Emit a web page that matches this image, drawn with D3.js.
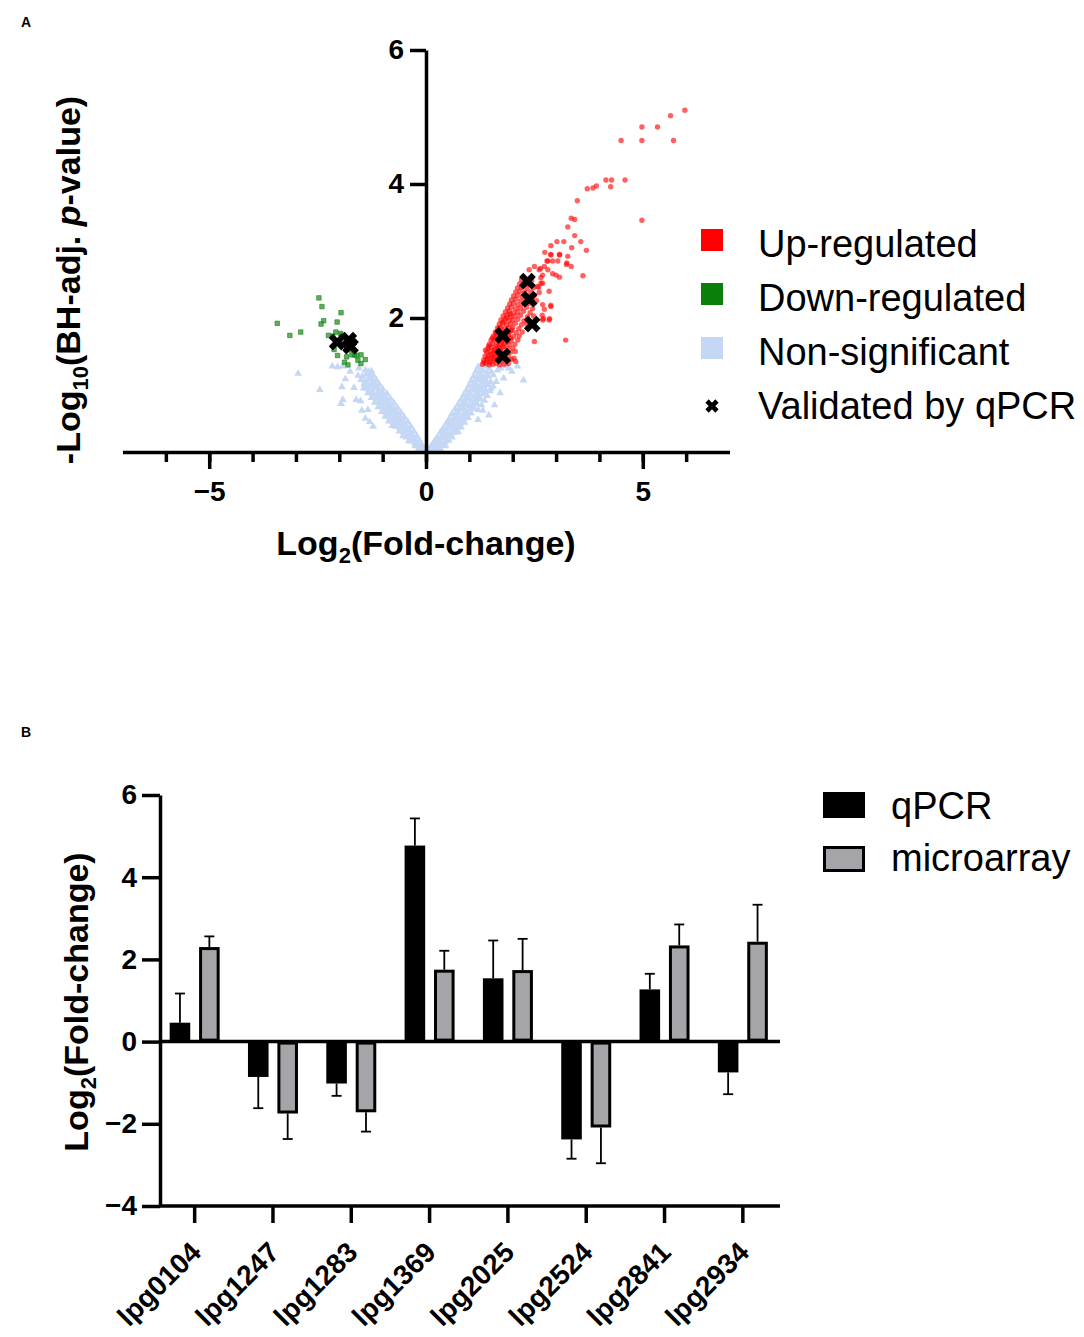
<!DOCTYPE html>
<html>
<head>
<meta charset="utf-8">
<script src="https://cdn.jsdelivr.net/npm/d3@7"></script>
<style>
  body { margin: 0; background: #fff; }
  svg { font-family: Arial, 'Liberation Sans', sans-serif; }
  .axis path, .axis line { stroke: #000; stroke-width: 3.5; }
  .axis text { font-size: 28px; font-weight: bold; fill: #000; }
  .title { font-size: 34px; font-weight: bold; }
  .legend { font-size: 38px; }
  .panel { font-size: 14px; font-weight: bold; }
</style>
</head>
<body>
<div id="chart"></div>
<script>
// ---- Panel A: volcano plot [log2 FC, -log10 adj p] ----
const nsLeft = [
  [-0.04,0.04],[-0.1,0.03],[-0.17,0.05],[-0.09,0.1],[-0.17,0.11],[-0.25,0.09],
  [-0.15,0.17],[-0.23,0.16],[-0.31,0.18],[-0.4,0.16],
  [-0.21,0.24],[-0.29,0.23],[-0.37,0.25],[-0.45,0.22],[-0.53,0.24],
  [-0.28,0.31],[-0.36,0.3],[-0.44,0.32],[-0.52,0.29],[-0.62,0.31],
  [-0.35,0.38],[-0.43,0.37],[-0.51,0.39],[-0.6,0.36],[-0.69,0.38],[-0.78,0.39],
  [-0.42,0.45],[-0.5,0.44],[-0.58,0.46],[-0.67,0.43],[-0.76,0.45],[-0.86,0.46],
  [-0.5,0.52],[-0.58,0.51],[-0.66,0.53],[-0.75,0.5],[-0.84,0.52],[-0.94,0.53],
  [-0.58,0.59],[-0.66,0.58],[-0.74,0.6],[-0.83,0.57],[-0.92,0.59],[-1.02,0.6],
  [-0.66,0.66],[-0.74,0.65],[-0.82,0.67],[-0.9,0.64],[-0.99,0.66],[-1.1,0.67],
  [-0.74,0.73],[-0.82,0.72],[-0.9,0.74],[-0.98,0.71],[-1.07,0.73],[-1.18,0.74],
  [-0.82,0.8],[-0.9,0.79],[-0.98,0.81],[-1.06,0.78],[-1.15,0.8],[-1.26,0.81],
  [-0.9,0.87],[-0.98,0.86],[-1.06,0.88],[-1.14,0.85],[-1.23,0.87],[-1.34,0.88],
  [-1.0,0.94],[-1.08,0.93],[-1.16,0.95],[-1.25,0.92],[-1.35,0.94],[-1.44,0.95],
  [-1.08,1.01],[-1.16,1.0],[-1.24,1.02],[-1.33,0.99],[-1.43,1.01],
  [-1.15,1.08],[-1.23,1.07],[-1.31,1.09],[-1.4,1.06],[-1.5,1.08],
  [-1.22,1.15],[-1.3,1.14],[-1.38,1.16],[-1.47,1.13],
  [-1.26,1.21],[-1.33,1.2],[-1.4,1.22],
  [-0.13,0.07],[-0.33,0.21],[-0.48,0.34],[-0.63,0.48],[-0.79,0.62],[-0.95,0.76],
  [-1.1,0.9],[-1.2,1.04],[-0.26,0.13],[-0.4,0.27],[-0.55,0.41],[-0.71,0.55],
  [-0.87,0.69],[-1.03,0.83],[-1.19,0.97],[-1.28,1.11],[-1.36,1.02],[-1.3,0.9],
  [-2.95,1.17],[-2.45,0.93],[-2.16,1.28],[-2.04,1.27],[-1.92,1.28],[-1.86,1.09],
  [-1.94,0.97],[-1.92,0.78],[-1.96,0.72],[-1.61,0.78],[-1.51,0.76],[-1.57,1.14],
  [-1.34,0.63],[-1.22,0.38],[-1.4,0.5],[-1.3,0.45],[-1.75,1.2],[-1.66,0.96],
  [-1.55,1.25],[-1.48,0.62]
];
const nsRight = [
  [0.04,0.03],[0.1,0.04],[0.17,0.05],[0.25,0.06],[0.33,0.05],
  [0.12,0.09],[0.2,0.1],[0.28,0.08],[0.37,0.1],[0.45,0.09],
  [0.19,0.15],[0.27,0.16],[0.35,0.14],[0.44,0.15],[0.52,0.17],
  [0.26,0.22],[0.34,0.21],[0.43,0.23],[0.51,0.2],[0.6,0.22],
  [0.33,0.29],[0.41,0.28],[0.49,0.3],[0.57,0.27],[0.66,0.29],[0.74,0.3],
  [0.4,0.36],[0.48,0.35],[0.56,0.37],[0.64,0.34],[0.72,0.36],[0.81,0.37],
  [0.47,0.43],[0.55,0.42],[0.63,0.44],[0.71,0.41],[0.8,0.43],[0.89,0.44],
  [0.54,0.5],[0.62,0.49],[0.7,0.51],[0.78,0.48],[0.87,0.5],[0.97,0.51],
  [0.6,0.57],[0.68,0.56],[0.76,0.58],[0.85,0.55],[0.94,0.57],[1.04,0.58],
  [0.67,0.64],[0.75,0.63],[0.83,0.65],[0.92,0.62],[1.01,0.64],[1.11,0.65],[1.2,0.63],
  [0.74,0.71],[0.82,0.7],[0.9,0.72],[0.99,0.69],[1.08,0.71],[1.18,0.72],[1.28,0.7],
  [0.81,0.78],[0.89,0.77],[0.97,0.79],[1.06,0.76],[1.15,0.78],[1.25,0.79],[1.35,0.77],
  [0.87,0.85],[0.95,0.84],[1.03,0.86],[1.12,0.83],[1.21,0.85],[1.3,0.86],[1.41,0.84],
  [0.93,0.92],[1.01,0.91],[1.09,0.93],[1.18,0.9],[1.27,0.92],[1.37,0.93],[1.48,0.91],
  [0.99,0.99],[1.07,0.98],[1.15,1.0],[1.24,0.97],[1.33,0.99],[1.43,1.0],[1.55,0.98],
  [1.04,1.06],[1.12,1.05],[1.2,1.07],[1.29,1.04],[1.38,1.06],[1.49,1.05],
  [1.1,1.13],[1.18,1.12],[1.26,1.14],[1.34,1.11],[1.43,1.13],
  [1.15,1.2],[1.23,1.19],[1.31,1.21],[1.4,1.18],[1.5,1.2],
  [1.2,1.27],[1.28,1.26],[1.36,1.28],[1.45,1.25],
  [0.16,0.12],[0.31,0.18],[0.46,0.26],[0.61,0.39],[0.76,0.46],[0.91,0.6],
  [1.06,0.68],[1.22,0.82],[1.35,0.88],[0.23,0.19],[0.38,0.32],[0.53,0.46],
  [0.69,0.53],[0.84,0.67],[0.99,0.81],[1.13,0.96],[1.25,1.1],[1.4,1.04],
  [2.25,1.07],[2.11,1.28],[1.91,1.25],[1.79,1.1],[1.71,0.88],[1.5,0.95],
  [1.31,0.62],[1.65,1.22],[1.84,1.28],[1.98,1.2],[1.58,0.7],[1.45,0.55],
  [1.62,1.05],[1.55,1.15],[1.2,0.48],[1.72,1.25]
];
const downReg = [
  [-3.43,1.92],[-3.14,1.74],[-2.89,1.79],[-2.47,2.30],[-2.40,2.17],[-1.96,2.08],
  [-2.36,1.96],[-2.42,1.91],[-2.05,1.94],[-2.25,1.74],[-2.08,1.79],[-1.97,1.77],
  [-2.04,1.44],[-2.12,1.53],[-1.83,1.42],[-1.65,1.45],[-1.50,1.45],[-1.57,1.37],
  [-1.40,1.38],[-1.50,1.32],[-1.88,1.34],[-1.80,1.30],[-1.76,1.53],[-1.92,1.61],
  [-1.68,1.53],[-2.15,1.73],[-1.94,1.74],[-1.71,1.45],[-1.60,1.44]
];
const upRegDense = [
  [1.30,1.31],[1.38,1.32],[1.46,1.30],[1.54,1.31],[1.62,1.32],[1.70,1.30],[1.80,1.31],[1.90,1.32],
  [1.33,1.37],[1.41,1.38],[1.49,1.36],[1.57,1.37],[1.66,1.38],[1.75,1.36],[1.86,1.37],[1.97,1.38],
  [1.36,1.43],[1.44,1.44],[1.52,1.42],[1.60,1.43],[1.69,1.44],[1.79,1.42],[1.90,1.43],
  [1.40,1.49],[1.48,1.50],[1.56,1.48],[1.64,1.49],[1.73,1.50],[1.83,1.48],[1.95,1.49],[2.06,1.50],
  [1.43,1.55],[1.51,1.56],[1.59,1.54],[1.68,1.55],[1.77,1.56],[1.88,1.54],[2.00,1.55],
  [1.46,1.61],[1.54,1.62],[1.62,1.60],[1.71,1.61],[1.81,1.62],[1.92,1.60],[2.05,1.61],
  [1.50,1.67],[1.58,1.68],[1.66,1.66],[1.75,1.67],[1.85,1.68],[1.96,1.66],[2.12,1.67],
  [1.55,1.73],[1.63,1.74],[1.71,1.72],[1.80,1.73],[1.90,1.74],[2.02,1.72],[2.15,1.73],
  [1.60,1.79],[1.68,1.80],[1.76,1.78],[1.85,1.79],[1.95,1.80],[2.08,1.78],[2.22,1.79],
  [1.65,1.85],[1.73,1.86],[1.81,1.84],[1.90,1.85],[2.00,1.86],[2.14,1.84],
  [1.69,1.91],[1.77,1.92],[1.86,1.90],[1.95,1.91],[2.06,1.92],[2.20,1.90],[2.32,1.91],
  [1.73,1.97],[1.82,1.98],[1.91,1.96],[2.00,1.97],[2.12,1.98],[2.26,1.96],
  [1.78,2.03],[1.87,2.04],[1.96,2.02],[2.06,2.03],[2.18,2.04],[2.34,2.02],[2.48,2.03],
  [1.83,2.09],[1.92,2.10],[2.02,2.08],[2.12,2.09],[2.25,2.10],[2.40,2.08],
  [1.88,2.15],[1.97,2.16],[2.07,2.14],[2.18,2.15],[2.32,2.16],[2.46,2.14],
  [1.93,2.21],[2.02,2.22],[2.12,2.20],[2.24,2.21],[2.38,2.22],
  [1.97,2.27],[2.07,2.28],[2.18,2.26],[2.30,2.27],[2.45,2.28],[2.55,2.26],
  [2.02,2.33],[2.12,2.34],[2.23,2.32],[2.36,2.33],[2.50,2.34],
  [2.07,2.39],[2.17,2.40],[2.28,2.38],[2.42,2.39],
  [2.11,2.45],[2.21,2.46],[2.33,2.44],[2.48,2.45],[2.60,2.46],
  [2.16,2.51],[2.26,2.52],[2.38,2.50],
  [2.20,2.57],[2.30,2.58],[2.44,2.56],
  [1.34,1.34],[1.42,1.40],[1.50,1.46],[1.58,1.52],[1.66,1.58],[1.74,1.64],
  [1.82,1.70],[1.90,1.76],[1.98,1.82],[1.47,1.34],[1.55,1.40],[1.63,1.46],
  [1.71,1.52],[1.79,1.58],[1.87,1.64],[1.95,1.70],[1.37,1.52],[1.45,1.58],
  [1.53,1.70],[1.61,1.76],[1.69,1.85],[1.78,1.94],[1.86,2.00],[1.94,2.06]
];
const upRegSparse = [
  [5.97,5.10],[5.64,5.02],[5.34,4.85],[4.98,4.85],[4.98,4.65],[4.50,4.65],[5.71,4.65],
  [4.59,4.06],[4.28,4.06],[4.15,4.06],[4.26,3.96],[3.93,3.97],[3.85,3.94],[3.72,3.93],
  [3.49,3.75],[4.98,3.46],[3.35,3.49],[3.43,3.47],[3.27,3.36],[3.43,3.23],[3.57,3.14],
  [3.18,3.14],[3.02,3.14],[2.88,3.08],[3.36,3.05],[3.70,3.01],[2.74,2.98],[3.08,2.95],
  [2.88,2.95],[3.27,2.92],[2.79,2.85],[2.92,2.85],[3.04,2.85],[3.25,2.82],[3.35,2.77],
  [2.73,2.77],[2.50,2.77],[2.64,2.74],[2.38,2.72],[2.92,2.66],[3.00,2.64],[3.08,2.61],
  [3.62,2.63],[2.69,2.64],[2.65,2.52],[2.57,2.47],[2.61,2.38],[2.88,2.19],[2.73,2.13],
  [2.68,2.04],[2.85,1.99],[2.71,1.99],[3.22,1.67],[2.50,1.65],[2.07,1.35],[2.03,1.40],
  [2.61,2.72],[2.81,2.72],[2.84,2.40],[2.69,2.20],[2.88,2.17],[2.84,1.97],[2.69,1.97],
  [2.88,2.94],[3.08,2.94],[3.24,2.80],[2.81,2.85],[2.65,2.60],[2.69,2.52]
];
const validated = [
  [-2.05,1.64],[-1.78,1.67],[-1.74,1.58],[1.77,1.74],[1.77,1.43],[2.34,2.55],[2.38,2.28],[2.45,1.91]
];
const volcanoLegend = ['Up-regulated', 'Down-regulated', 'Non-significant', 'Validated by qPCR'];

// ---- Panel B: qPCR vs microarray ----
const genes = ['lpg0104', 'lpg1247', 'lpg1283', 'lpg1369', 'lpg2025', 'lpg2524', 'lpg2841', 'lpg2934'];
const qpcrMean = [0.46, -0.86, -1.02, 4.77, 1.54, -2.38, 1.27, -0.75];
const qpcrErr = [0.71, 0.76, 0.30, 0.66, 0.92, 0.47, 0.38, 0.53];
const arrayMean = [2.30, -1.75, -1.72, 1.75, 1.74, -2.09, 2.34, 2.43];
const arrayErr = [0.26, 0.62, 0.47, 0.46, 0.76, 0.87, 0.51, 0.90];
const methods = ['qPCR', 'microarray'];

const svg = d3.select('#chart').append('svg')
  .attr('width', 1084)
  .attr('height', 1337);

// text with a subscript part, e.g. Log_2(Fold-change)
function subTitle(sel, parts) {
  parts.forEach((p) => {
    const t = sel.append('tspan').text(p.text);
    if (p.sub) t.attr('font-size', 22).attr('dy', 8);
    if (p.back) t.attr('dy', -8);
    if (p.italic) t.attr('font-style', 'italic');
  });
}

function drawVolcano() {
  const x = d3.scaleLinear().domain([-7, 7]).range([122.5, 729.5]);
  const y = d3.scaleLinear().domain([0, 6]).range([452, 50]);
  const g = svg.append('g');

  g.append('text').attr('class', 'panel').attr('x', 21).attr('y', 27).text('A');

  // points
  const tri = d3.symbol().type(d3.symbolTriangle).size(26);
  g.append('g').selectAll('path')
    .data(nsLeft.concat(nsRight))
    .join('path')
    .attr('d', tri)
    .attr('transform', (d) => `translate(${x(d[0])},${y(d[1])})`)
    .attr('fill', '#c4d8f5');

  const sq = d3.symbol().type(d3.symbolSquare).size(20);
  g.append('g').selectAll('path')
    .data(downReg)
    .join('path')
    .attr('d', sq)
    .attr('transform', (d) => `translate(${x(d[0])},${y(d[1])})`)
    .attr('fill', '#1e8c1e')
    .attr('fill-opacity', 0.7)
    .attr('stroke', '#138013')
    .attr('stroke-width', 0.6);

  g.append('g').selectAll('circle')
    .data(upRegDense.concat(upRegSparse))
    .join('circle')
    .attr('cx', (d) => x(d[0]))
    .attr('cy', (d) => y(d[1]))
    .attr('r', 2.7)
    .attr('fill', 'red')
    .attr('fill-opacity', 0.62);

  const cross = d3.symbol().type(d3.symbolCross).size(175);
  g.append('g').selectAll('path')
    .data(validated)
    .join('path')
    .attr('d', cross)
    .attr('transform', (d) => `translate(${x(d[0])},${y(d[1])}) rotate(45)`)
    .attr('fill', '#000');

  // axes: minor ticks every unit, major labelled ones every 5
  g.append('g')
    .attr('class', 'axis')
    .attr('transform', `translate(0,${y(0)})`)
    .call(d3.axisBottom(x).tickValues(d3.range(-6, 7)).tickSize(10).tickSizeOuter(0).tickFormat(''));
  g.append('g')
    .attr('class', 'axis')
    .attr('transform', `translate(0,${y(0)})`)
    .call(d3.axisBottom(x).tickValues([-5, 0, 5]).tickSize(17).tickSizeOuter(0).tickPadding(12))
    .select('.domain').remove();
  g.append('g')
    .attr('class', 'axis')
    .attr('transform', `translate(${x(0)},0)`)
    .call(d3.axisLeft(y).tickValues([2, 4, 6]).tickFormat(d3.format('d'))
      .tickSize(16).tickSizeOuter(0).tickPadding(6));

  // titles
  const xt = g.append('text').attr('class', 'title')
    .attr('x', x(0)).attr('y', 555).attr('text-anchor', 'middle');
  subTitle(xt, [{ text: 'Log' }, { text: '2', sub: true }, { text: '(Fold-change)', back: true }]);

  const yt = g.append('text').attr('class', 'title')
    .attr('transform', 'translate(80,280) rotate(-90)').attr('text-anchor', 'middle');
  subTitle(yt, [
    { text: '-Log' }, { text: '10', sub: true }, { text: '(BH-adj. ', back: true },
    { text: 'p', italic: true }, { text: '-value)' },
  ]);

  // legend
  const colors = ['#ff0000', '#0a800a', '#c4d8f5'];
  const lg = g.append('g').attr('class', 'legend');
  lg.selectAll('rect')
    .data(colors)
    .join('rect')
    .attr('x', 701)
    .attr('y', (d, i) => 229 + i * 54)
    .attr('width', 22)
    .attr('height', 22)
    .attr('fill', (d) => d);
  lg.append('path')
    .attr('d', d3.symbol().type(d3.symbolCross).size(110)())
    .attr('transform', 'translate(712,406) rotate(45)')
    .attr('fill', '#000');
  lg.selectAll('text')
    .data(volcanoLegend)
    .join('text')
    .attr('x', 758)
    .attr('y', (d, i) => 257 + i * 54)
    .text((d) => d);
}

function drawBars() {
  const x = d3.scaleBand().domain(genes).range([155.5, 782]);
  const xSub = d3.scaleBand().domain(methods).range([-25, 25]).paddingInner(0.3);
  const y = d3.scaleLinear().domain([-4, 6]).range([1206, 795]);
  const bw = xSub.bandwidth();
  const g = svg.append('g');

  g.append('text').attr('class', 'panel').attr('x', 21).attr('y', 737).text('B');

  const rows = genes.map((gene, i) => [
    { gene, method: 'qPCR', value: qpcrMean[i], err: qpcrErr[i] },
    { gene, method: 'microarray', value: arrayMean[i], err: arrayErr[i] },
  ]).flat();

  const cx = (d) => x(d.gene) + x.bandwidth() / 2 + xSub(d.method);

  // error bars (one-sided, away from zero)
  const eb = g.append('g').selectAll('g')
    .data(rows)
    .join('g')
    .attr('stroke', '#000')
    .attr('stroke-width', 1.8);
  const tip = (d) => y(d.value + Math.sign(d.value) * d.err);
  eb.append('line')
    .attr('x1', (d) => cx(d) + bw / 2)
    .attr('x2', (d) => cx(d) + bw / 2)
    .attr('y1', (d) => y(d.value))
    .attr('y2', tip);
  eb.append('line')
    .attr('x1', (d) => cx(d) + bw / 2 - 5)
    .attr('x2', (d) => cx(d) + bw / 2 + 5)
    .attr('y1', tip)
    .attr('y2', tip);

  g.append('g').selectAll('rect')
    .data(rows)
    .join('rect')
    .attr('x', (d) => (d.method === 'qPCR' ? cx(d) : cx(d) + 1.5))
    .attr('width', (d) => (d.method === 'qPCR' ? bw : bw - 3))
    .attr('y', (d) => Math.min(y(d.value), y(0)) + (d.method === 'qPCR' ? 0 : 1.5))
    .attr('height', (d) => Math.abs(y(d.value) - y(0)) - (d.method === 'qPCR' ? 0 : 3))
    .attr('fill', (d) => (d.method === 'qPCR' ? '#000' : '#a5a5a9'))
    .attr('stroke', (d) => (d.method === 'qPCR' ? 'none' : '#000'))
    .attr('stroke-width', 3);

  // zero line
  g.append('line')
    .attr('x1', 160).attr('x2', 780)
    .attr('y1', y(0)).attr('y2', y(0))
    .attr('stroke', '#000').attr('stroke-width', 3.5);

  g.append('g')
    .attr('class', 'axis')
    .attr('transform', 'translate(160,0)')
    .call(d3.axisLeft(y).tickValues([-4, -2, 0, 2, 4, 6]).tickSize(18).tickSizeOuter(0).tickPadding(5));

  const xa = g.append('g')
    .attr('class', 'axis')
    .attr('transform', `translate(0,${y(-4)})`)
    .call(d3.axisBottom(x).tickSize(17).tickSizeOuter(0).tickFormat(''));
  xa.select('.domain').attr('d', 'M160,0H780');

  g.append('g').selectAll('text')
    .data(genes)
    .join('text')
    .attr('transform', (d) => `translate(${x(d) + x.bandwidth() / 2 + 8},${y(-4) + 48}) rotate(-45)`)
    .attr('text-anchor', 'end')
    .attr('font-size', 28)
    .attr('font-weight', 'bold')
    .text((d) => d);

  const yt = g.append('text').attr('class', 'title')
    .attr('transform', 'translate(88,1002) rotate(-90)').attr('text-anchor', 'middle');
  subTitle(yt, [{ text: 'Log' }, { text: '2', sub: true }, { text: '(Fold-change)', back: true }]);

  // legend
  const lg = g.append('g').attr('class', 'legend');
  lg.append('rect').attr('x', 823).attr('y', 792).attr('width', 42).attr('height', 26).attr('fill', '#000');
  lg.append('rect').attr('x', 824.5).attr('y', 847.5).attr('width', 39).attr('height', 23)
    .attr('fill', '#a5a5a9').attr('stroke', '#000').attr('stroke-width', 3);
  lg.selectAll('text')
    .data(methods)
    .join('text')
    .attr('x', 891)
    .attr('y', (d, i) => 819 + i * 52)
    .text((d) => d);
}

drawVolcano();
drawBars();
</script>
</body>
</html>
